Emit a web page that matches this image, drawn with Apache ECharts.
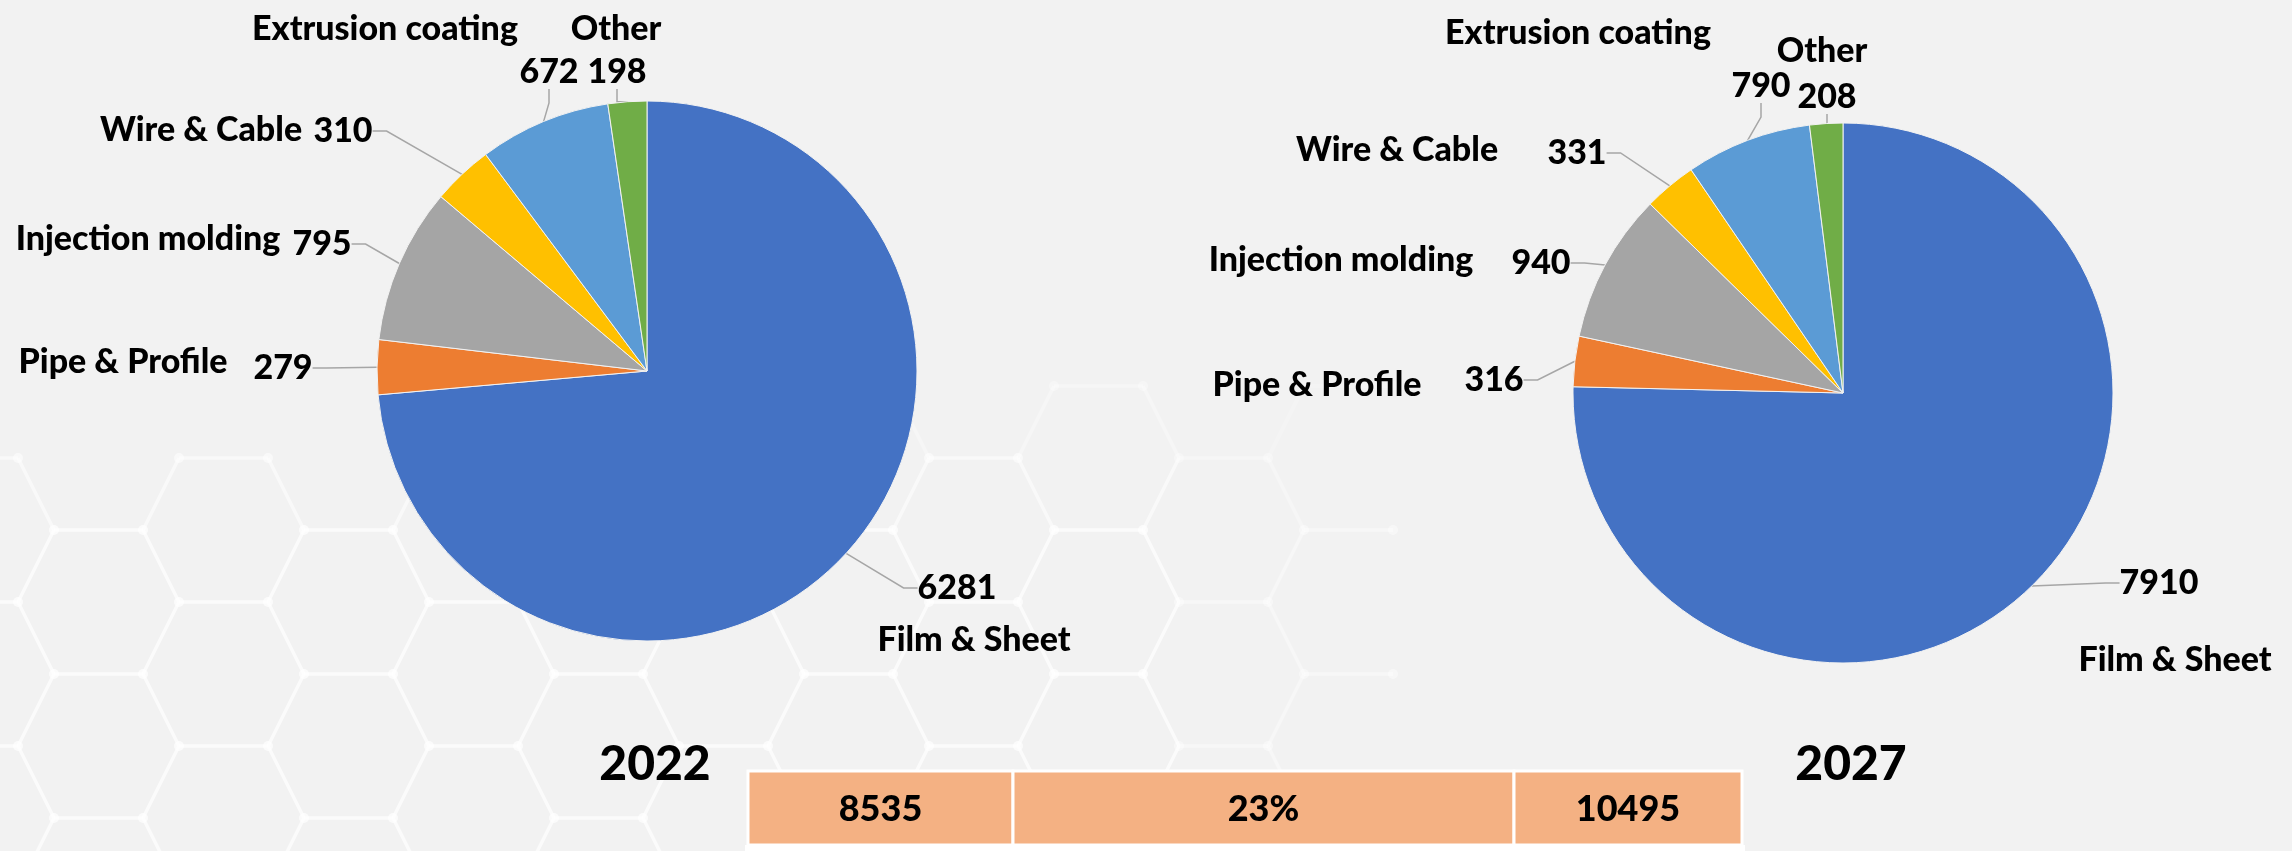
<!DOCTYPE html>
<html>
<head>
<meta charset="utf-8">
<script src="https://cdn.jsdelivr.net/npm/echarts@6/dist/echarts.min.js"></script>
<style>
  html, body { margin: 0; padding: 0; background: #f2f2f2; }
  #chart { width: 2292px; height: 851px; }
</style>
</head>
<body>
<div id="chart"></div>
<script>
// data
const categories = ["Film & Sheet", "Pipe & Profile", "Injection molding", "Wire & Cable", "Extrusion coating", "Other"];
const years = ["2022", "2027"];
const values2022 = [6281, 279, 795, 310, 672, 198];
const values2027 = [7910, 316, 940, 331, 790, 208];

const colors = ["#4472C4", "#ED7D31", "#A5A5A5", "#FFC000", "#5B9BD5", "#70AD47"];
const font = "Lato";
const labelWeight = 900;
const labelSize = 34;

// pie placement
const pieCenters = [[647, 371], [1843, 393]];
const pieRadius = 270;

// label anchor points (center of text), one row per pie
const valueLabelPos = [
  [[957, 588], [283, 368], [322, 244], [343, 131], [549, 72], [617, 72]],
  [[2159, 583], [1494, 380], [1541, 263], [1577, 153], [1761, 86], [1827, 97]]
];
const nameLabelPos = [
  [[974, 640], [123, 362], [148, 239], [201, 130], [385, 29], [616, 29]],
  [[2175, 660], [1317, 385], [1341, 260], [1397, 150], [1578, 33], [1822, 51]]
];

const sum = (arr) => arr.reduce((s, v) => s + v, 0);
const total2022 = sum(values2022);
const total2027 = sum(values2027);
const growth = Math.round((total2027 / total2022 - 1) * 100) + "%";

const chart = echarts.init(document.getElementById("chart"));

function pieData(values) {
  return categories.map((name, i) => ({
    name: name,
    value: values[i],
    itemStyle: { color: colors[i] }
  }));
}

function valueSeries(values, idx) {
  return {
    type: "pie",
    center: pieCenters[idx],
    radius: pieRadius,
    startAngle: 90,
    clockwise: true,
    silent: true,
    z: 3,
    itemStyle: { borderColor: "#f2f2f2", borderWidth: 1 },
    label: {
      show: true,
      position: "outside",
      formatter: "{c}",
      fontFamily: font,
      fontWeight: labelWeight,
      fontSize: labelSize,
      color: "#000"
    },
    labelLine: {
      show: true,
      length: 10,
      length2: 14,
      lineStyle: { color: "#a6a6a6", width: 1.5 }
    },
    labelLayout: function (p) {
      const pos = valueLabelPos[idx][p.dataIndex];
      return { x: pos[0], y: pos[1], align: "center", verticalAlign: "middle" };
    },
    data: pieData(values)
  };
}

function nameSeries(values, idx) {
  return {
    type: "pie",
    center: pieCenters[idx],
    radius: pieRadius,
    startAngle: 90,
    silent: true,
    z: 1,
    itemStyle: { color: "rgba(0,0,0,0)" },
    label: {
      show: true,
      position: "outside",
      formatter: "{b}",
      fontFamily: font,
      fontWeight: labelWeight,
      fontSize: labelSize,
      color: "#000"
    },
    labelLine: { show: false },
    labelLayout: function (p) {
      const pos = nameLabelPos[idx][p.dataIndex];
      return { x: pos[0], y: pos[1], align: "center", verticalAlign: "middle" };
    },
    data: categories.map((name, i) => ({ name: name, value: values[i] }))
  };
}

// faint hexagon pattern in the background, fading towards the top
function hexPattern() {
  const a = 89, d = 36, h = 72, period = 250;
  const els = [];
  const fade = (x, y) => {
    let op = y >= 520 ? 0.7 : y >= 450 ? 0.55 : 0.35;
    if (x > 1150) op *= 0.6;
    return op;
  };
  const line = (x1, y1, x2, y2) => els.push({
    type: "line",
    z: 0,
    silent: true,
    shape: { x1: x1, y1: y1, x2: x2, y2: y2 },
    style: { stroke: "#ffffff", lineWidth: 3.5, opacity: fade(Math.min(x1, x2), Math.min(y1, y2)) }
  });
  const dot = (x, y) => els.push({
    type: "circle",
    z: 0,
    silent: true,
    shape: { cx: x, cy: y, r: 5 },
    style: { fill: "#ffffff", opacity: fade(x, y) }
  });
  for (let j = -2; j < 6; j++) {
    const y = 530 + j * h;
    const shift = j % 2 !== 0 ? 125 : 0;
    for (let sx = 54 + shift - 500; sx < 1450; sx += period) {
      if (sx > 1400 || sx + a < -50) continue;
      if (y < 400 && sx < 600) continue;
      line(sx, y, sx + a, y);
      dot(sx, y);
      dot(sx + a, y);
      if (sx + a + d < 1420) line(sx + a, y, sx + a + d, y + h);
      line(sx, y, sx - d, y + h);
    }
  }
  return els;
}

// growth table under the pies
const tableCells = [
  { x: 748, w: 265, text: String(total2022) },
  { x: 1013, w: 501, text: growth },
  { x: 1514, w: 228, text: String(total2027) }
];
const tableTop = 771, tableH = 74;

function tableGraphic() {
  const els = [];
  els.push({
    type: "rect", z: 10,
    shape: { x: 745, y: tableTop + tableH, width: 1000, height: 10 },
    style: { fill: "#ffffff" }
  });
  tableCells.forEach((c) => {
    els.push({
      type: "rect", z: 10,
      shape: { x: c.x, y: tableTop, width: c.w, height: tableH },
      style: { fill: "#F4B183", stroke: "#ffffff", lineWidth: 3 }
    });
    els.push({
      type: "text", z: 11,
      x: c.x + c.w / 2, y: tableTop + tableH / 2 + 1,
      style: {
        text: c.text, fill: "#000",
        font: labelWeight + " 36px " + font,
        align: "center", verticalAlign: "middle"
      }
    });
  });
  return els;
}

const option = {
  backgroundColor: "#f2f2f2",
  animation: false,
  title: years.map((y, i) => ({
    text: y,
    left: pieCenters[i][0] + 3,
    top: 736,
    textAlign: "center",
    textStyle: { fontFamily: font, fontWeight: labelWeight, fontSize: 48, color: "#000" }
  })),
  graphic: hexPattern().concat(tableGraphic()),
  series: [
    nameSeries(values2022, 0),
    valueSeries(values2022, 0),
    nameSeries(values2027, 1),
    valueSeries(values2027, 1)
  ]
};

chart.setOption(option);
</script>
</body>
</html>
